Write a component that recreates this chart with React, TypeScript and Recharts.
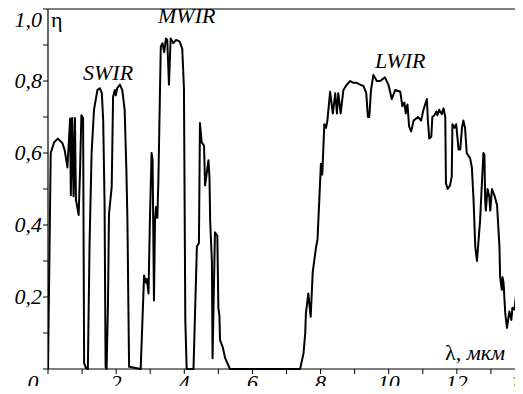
import { LineChart, Line, XAxis, YAxis, ReferenceLine } from "recharts";

// wavelength, um
const wavelength = [
  0, 0.08, 0.18, 0.29, 0.42, 0.49, 0.57, 0.65, 0.67, 0.71, 0.75, 0.79, 0.82, 0.9, 0.94, 0.98,
  1.03, 1.06, 1.11, 1.17, 1.22, 1.28, 1.35, 1.45, 1.52, 1.58, 1.62, 1.66, 1.69, 1.72, 1.76,
  1.79, 1.87, 1.91, 1.96, 1.99, 2.03, 2.11, 2.18, 2.25, 2.3, 2.33, 2.38, 2.72, 2.82, 2.87,
  2.9, 2.95, 2.99, 3.04, 3.07, 3.11, 3.14, 3.17, 3.21, 3.24, 3.31, 3.36, 3.41, 3.46, 3.5,
  3.55, 3.6, 3.68, 3.76, 3.86, 3.94, 3.99, 4.03, 4.07, 4.27, 4.37, 4.43, 4.46, 4.51, 4.58,
  4.61, 4.71, 4.74, 4.76, 4.81, 4.83, 4.9, 4.97, 5.0, 5.03, 5.05, 5.13, 5.2, 5.34, 7.4,
  7.5, 7.55, 7.57, 7.64, 7.71, 7.77, 7.87, 7.91, 8.01, 8.05, 8.11, 8.16, 8.2, 8.28, 8.36,
  8.43, 8.48, 8.52, 8.59, 8.67, 8.77, 8.87, 8.96, 9.06, 9.16, 9.26, 9.34, 9.39, 9.43, 9.48,
  9.55, 9.65, 9.75, 9.89, 9.99, 10.09, 10.19, 10.34, 10.4, 10.46, 10.5, 10.55, 10.6, 10.66,
  10.73, 10.86, 10.95, 11.02, 11.12, 11.15, 11.19, 11.25, 11.28, 11.34, 11.4, 11.43, 11.48,
  11.56, 11.61, 11.66, 11.68, 11.73, 11.8, 11.85, 11.87, 11.93, 11.98, 12.05, 12.1, 12.15,
  12.19, 12.24, 12.29, 12.39, 12.44, 12.49, 12.54, 12.59, 12.63, 12.68, 12.73, 12.78, 12.81,
  12.83, 12.85, 12.9, 12.95, 12.98, 13.03, 13.11, 13.18, 13.25, 13.27, 13.32, 13.34, 13.37,
  13.42, 13.47, 13.54, 13.6, 13.63, 13.69, 13.73, 13.79, 13.83, 13.88, 13.94,
];

// transmission
const transmission = [
  0, 0.6, 0.63, 0.64, 0.628, 0.608, 0.56, 0.696, 0.483, 0.697, 0.48, 0.697, 0.47, 0.428, 0.55, 0.705,
  0.697, 0.017, 0.003, 0, 0.35, 0.6, 0.72, 0.775, 0.78, 0.766, 0.69, 0.46, 0.006, 0, 0.18,
  0.43, 0.506, 0.756, 0.775, 0.76, 0.78, 0.79, 0.775, 0.72, 0.553, 0.42, 0.006, 0, 0.26, 0.24,
  0.25, 0.21, 0.41, 0.6, 0.58, 0.19, 0.41, 0.45, 0.42, 0.525, 0.895, 0.905, 0.88, 0.918, 0.914,
  0.79, 0.918, 0.905, 0.914, 0.91, 0.89, 0.78, 0.136, 0, 0, 0.34, 0.35, 0.683, 0.63, 0.62,
  0.51, 0.58, 0.53, 0.41, 0.3, 0.03, 0.38, 0.37, 0.17, 0.15, 0.08, 0.06, 0.03, 0, 0,
  0.044, 0.1, 0.155, 0.21, 0.145, 0.27, 0.34, 0.36, 0.57, 0.54, 0.68, 0.67, 0.69, 0.77, 0.71,
  0.766, 0.71, 0.766, 0.71, 0.775, 0.79, 0.8, 0.795, 0.795, 0.79, 0.786, 0.767, 0.7, 0.7, 0.775,
  0.817, 0.8, 0.8, 0.81, 0.79, 0.75, 0.775, 0.77, 0.73, 0.74, 0.71, 0.735, 0.673, 0.66,
  0.69, 0.7, 0.69, 0.72, 0.75, 0.69, 0.64, 0.645, 0.7, 0.705, 0.715, 0.705, 0.72,
  0.708, 0.724, 0.7, 0.516, 0.5, 0.51, 0.535, 0.68, 0.67, 0.68, 0.61, 0.61, 0.67,
  0.69, 0.67, 0.6, 0.585, 0.56, 0.47, 0.34, 0.3, 0.35, 0.41, 0.506, 0.6, 0.595,
  0.47, 0.44, 0.5, 0.48, 0.44, 0.5, 0.48, 0.455, 0.34, 0.256, 0.22, 0.255, 0.24,
  0.155, 0.114, 0.16, 0.136, 0.17, 0.165, 0.2, 0.19, 0.145, 0.017, 0,
];

const xTicks = [0, 1, 2, 3, 4, 5, 6, 7, 8, 9, 10, 11, 12, 13, 14];
const yTicks = [0, 0.1, 0.2, 0.3, 0.4, 0.5, 0.6, 0.7, 0.8, 0.9, 1];
const xLabelled = [0, 2, 4, 6, 8, 10, 12, 14];
const yLabelled = [0.2, 0.4, 0.6, 0.8, 1];

const data = wavelength.map((x, i) => ({ x, eta: transmission[i] }));

const serif = { fontFamily: "Liberation Serif, DejaVu Serif, serif" };
const serifItalic = { ...serif, fontStyle: "italic" as const };

// the chart sits at the page origin, so svg coords == page pixels
function XTick(props: any) {
  const v = props.payload.value;
  if (!xLabelled.includes(v)) return null;
  const shift = v === 0 ? -15 : v === 14 ? -4 : 0;
  return (
    <text
      x={props.x + shift}
      y={390}
      textAnchor="middle"
      style={{ ...serifItalic, fontSize: 22 }}
      fill="#000"
    >
      {v}
    </text>
  );
}

function YTick(props: any) {
  const v = Math.round(props.payload.value * 10) / 10;
  if (!yLabelled.includes(v)) return null;
  return (
    <text
      x={42}
      y={props.y + (v === 1 ? 18 : 7)}
      textAnchor="end"
      style={{ ...serifItalic, fontSize: 22 }}
      fill="#000"
    >
      {v.toFixed(1).replace(".", ",")}
    </text>
  );
}

export default function App() {
  return (
    <div
      style={{
        position: "relative",
        margin: -8,
        width: 523,
        height: 394,
        overflow: "hidden",
      }}
    >
      <LineChart
        width={540}
        height={394}
        data={data}
        margin={{ top: 9, right: 15, left: 0, bottom: 0 }}
      >
        <XAxis
          type="number"
          dataKey="x"
          domain={[0, 14]}
          ticks={xTicks}
          interval={0}
          height={25}
          tickSize={5}
          stroke="#000"
          tickLine={{ stroke: "#000" }}
          axisLine={{ stroke: "#000", strokeWidth: 1.2 }}
          tick={<XTick />}
          allowDataOverflow
        />
        <YAxis
          type="number"
          domain={[0, 1]}
          ticks={yTicks}
          interval={0}
          width={48}
          tickSize={5}
          stroke="#000"
          tickLine={{ stroke: "#000" }}
          axisLine={{ stroke: "#000", strokeWidth: 1.2 }}
          tick={<YTick />}
        />
        <ReferenceLine y={1} stroke="#000" strokeWidth={1.2} />
        <Line
          type="linear"
          dataKey="eta"
          stroke="#000"
          strokeWidth={2}
          strokeLinejoin="round"
          dot={false}
          isAnimationActive={false}
        />
      </LineChart>
      <svg
        width={523}
        height={394}
        style={{ position: "absolute", left: 0, top: 0, pointerEvents: "none" }}
      >
        <g fill="#000">
          <text x={51} y={27} style={{ ...serif, fontSize: 22 }}>η</text>
          <text x={83} y={80} style={{ ...serifItalic, fontSize: 22 }}>SWIR</text>
          <text x={158} y={23} style={{ ...serifItalic, fontSize: 22 }}>MWIR</text>
          <text x={375} y={68} style={{ ...serifItalic, fontSize: 22 }}>LWIR</text>
          <text x={445} y={360} style={{ ...serif, fontSize: 22 }}>
            λ<tspan style={{ fontStyle: "italic" }}>, мкм</tspan>
          </text>
        </g>
      </svg>
    </div>
  );
}
